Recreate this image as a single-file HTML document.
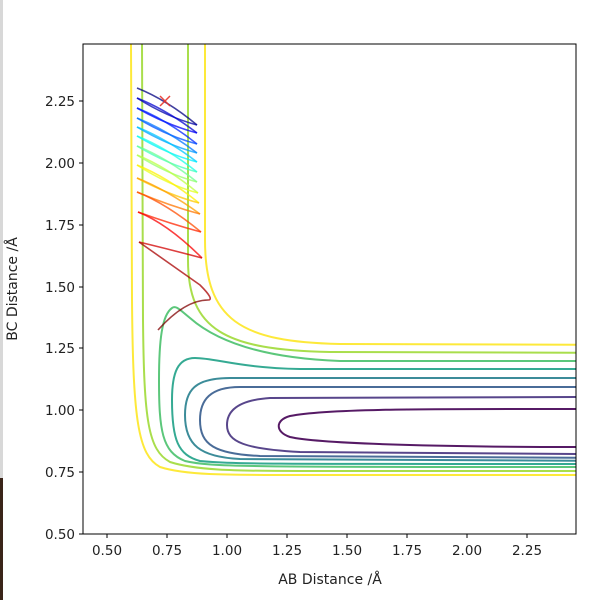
<!DOCTYPE html>
<html><head><meta charset="utf-8"><style>
html,body{margin:0;padding:0;background:#fff;}
body{width:606px;height:600px;position:relative;overflow:hidden;font-family:"DejaVu Sans","Liberation Sans",sans-serif;}
</style></head><body>
<div style="position:absolute;left:0;top:0;width:3px;height:478px;background:#d8d8d8"></div>
<div style="position:absolute;left:0;top:478px;width:3px;height:122px;background:#3a2418"></div>
<svg width="606" height="600" style="position:absolute;left:0;top:0" xmlns="http://www.w3.org/2000/svg">
<defs><clipPath id="c"><rect x="83" y="44" width="493" height="490"/></clipPath></defs>
<g clip-path="url(#c)" fill="none" stroke-width="2" stroke-opacity="0.9">
<path stroke="#fde725" d="M131,44 L132,300 C133,420 138,455 160,467 C185,475 220,475 300,475 L576,475"/>
<path stroke="#fde725" d="M205,44 L205,240 C205,320 240,342 340,344 L576,344.7"/>
<path stroke="#a0da39" d="M142,44 L143,320 C144,420 148,450 170,462 C195,470 230,471 300,471 L576,471"/>
<path stroke="#a0da39" d="M188,44 L188,260 C188,330 225,350 330,352 L576,352.7"/>
<path stroke="#4ac16d" d="M576,361 L340,361 C260,358 215,340 190,318 C180,310 176,305 172,308 C162,315 159,340 159,380 C159,430 162,452 185,461 C210,467 250,467 576,467"/>
<path stroke="#1fa187" d="M576,369 L300,369 C240,368 215,358 195,358 C178,358 172,372 172,400 C172,440 178,455 200,461 C230,464 260,464 576,464"/>
<path stroke="#277f8e" d="M576,378 L230,378 C195,378 185,390 185,415 C185,445 200,457 240,459 L576,460.7"/>
<path stroke="#365c8d" d="M576,387 L240,387 C210,387 200,400 200,420 C200,445 215,454 260,456 L576,457.7"/>
<path stroke="#46327e" d="M576,397 L270,398 C240,400 227,410 227,425 C227,442 245,449 300,452 L576,454"/>
<path stroke="#440154" d="M576,409 C450,409 330,408 290,416 C275,420 275,432 290,437 C320,444 450,447 576,447"/>
<g id="traj" stroke-width="1.6" stroke-opacity="0.75"></g>
<g stroke="#e8342a" stroke-width="1.5"><line x1="160" y1="96" x2="170" y2="106"/><line x1="160" y1="106" x2="170" y2="96"/></g>
</g>
<rect x="83" y="44" width="493" height="490" fill="none" stroke="#000" stroke-width="1"/>
<g stroke="#000" stroke-width="1">
<line x1="107" y1="534" x2="107" y2="538"/><line x1="167" y1="534" x2="167" y2="538"/><line x1="227" y1="534" x2="227" y2="538"/><line x1="287" y1="534" x2="287" y2="538"/><line x1="347" y1="534" x2="347" y2="538"/><line x1="407" y1="534" x2="407" y2="538"/><line x1="467" y1="534" x2="467" y2="538"/><line x1="527" y1="534" x2="527" y2="538"/>
<line x1="79" y1="534" x2="83" y2="534"/><line x1="79" y1="472" x2="83" y2="472"/><line x1="79" y1="410" x2="83" y2="410"/><line x1="79" y1="348" x2="83" y2="348"/><line x1="79" y1="287" x2="83" y2="287"/><line x1="79" y1="225" x2="83" y2="225"/><line x1="79" y1="163" x2="83" y2="163"/><line x1="79" y1="101" x2="83" y2="101"/>
</g>
<g font-size="13.5" fill="#222" text-anchor="middle">
<text x="107" y="555">0.50</text><text x="167" y="555">0.75</text><text x="227" y="555">1.00</text><text x="287" y="555">1.25</text><text x="347" y="555">1.50</text><text x="407" y="555">1.75</text><text x="467" y="555">2.00</text><text x="527" y="555">2.25</text>
</g>
<g font-size="13.5" fill="#222" text-anchor="end">
<text x="75" y="539">0.50</text><text x="75" y="477">0.75</text><text x="75" y="415">1.00</text><text x="75" y="353">1.25</text><text x="75" y="292">1.50</text><text x="75" y="230">1.75</text><text x="75" y="168">2.00</text><text x="75" y="106">2.25</text>
</g>
<text x="330" y="584" font-size="14" fill="#222" text-anchor="middle">AB Distance /Å</text>
<text transform="translate(17,289) rotate(-90)" font-size="14" fill="#222" text-anchor="middle">BC Distance /Å</text>
</svg>
<script>
var pts=[[137,88],[197,125],[137,98],[197,133],[137,108],[197,144],[137,118],[197,153],[137,127],[197,162],[137,136],[197,172],[137,146],[197,182],[137,155],[198,193],[137,165],[199,203],[137,178],[200,214],[137,192],[201,232],[138,212],[202,258],[139,242],[208,300],[158,330]];
function jet(t){function c(x){return Math.max(0,Math.min(1,x));}
var r=c(1.5-Math.abs(4*t-3)),g=c(1.5-Math.abs(4*t-2)),b=c(1.5-Math.abs(4*t-1));
return 'rgb('+Math.round(r*255)+','+Math.round(g*255)+','+Math.round(b*255)+')';}
var g=document.getElementById('traj'),n=pts.length-1,s='';
for(var i=0;i<n;i++){var a=pts[i],b=pts[i+1];
var d;
if(i==n-1){d='M'+a[0]+','+a[1]+' Q185,300 '+b[0]+','+b[1];}
else if(i==n-2){d='M'+a[0]+','+a[1]+' L200,285 Q215,300 '+b[0]+','+b[1];}
else if(i%2==0){d='M'+a[0]+','+a[1]+' Q'+(a[0]+30)+','+(a[1]+12)+' '+b[0]+','+b[1];}
else d='M'+a[0]+','+a[1]+' Q'+(a[0]-30)+','+(a[1]-8)+' '+b[0]+','+b[1];
s+='<path stroke="'+jet(i/(n-1))+'" d="'+d+'"/>';}
g.innerHTML=s;
</script>
</body></html>
